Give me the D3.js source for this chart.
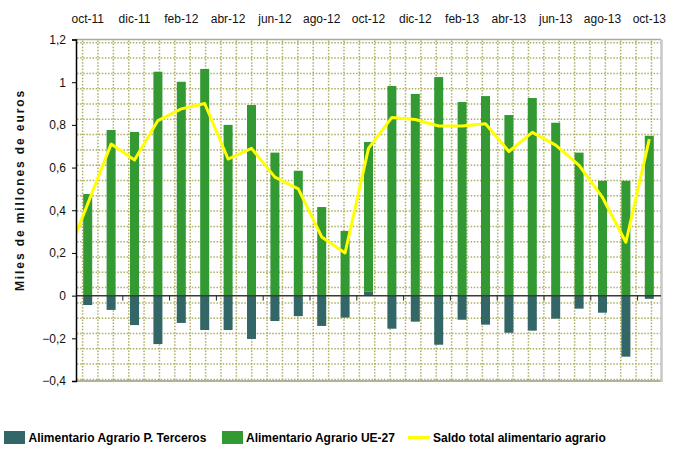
<!DOCTYPE html>
<html>
<head>
<meta charset="utf-8">
<script src="https://cdn.jsdelivr.net/npm/d3@7"></script>
<style>
  body { margin: 0; background: #fff; }
  svg { display: block; font-family: "Liberation Sans", Arial, sans-serif; }
</style>
</head>
<body>
<div id="wrapper"></div>
<script>
// months shown as bars
var months = ["oct-11", "nov-11", "dic-11", "ene-12", "feb-12", "mar-12", "abr-12", "may-12",
  "jun-12", "jul-12", "ago-12", "sep-12", "oct-12", "nov-12", "dic-12", "ene-13", "feb-13",
  "mar-13", "abr-13", "may-13", "jun-13", "jul-13", "ago-13", "sep-13", "oct-13"]
var topLabels = ["oct-11", "dic-11", "feb-12", "abr-12", "jun-12", "ago-12", "oct-12",
  "dic-12", "feb-13", "abr-13", "jun-13", "ago-13", "oct-13"]

// Alimentario Agrario P. Terceros
var terceros = [-0.044, -0.067, -0.138, -0.227, -0.128, -0.161, -0.161, -0.203, -0.119, -0.096,
  -0.142, -0.103, 0.02, -0.155, -0.122, -0.23, -0.113, -0.136, -0.174, -0.164, -0.108, -0.061,
  -0.08, -0.286, -0.015]
// Alimentario Agrario UE-27
var ue27 = [0.476, 0.776, 0.767, 1.049, 1.002, 1.062, 0.80, 0.893, 0.67, 0.585, 0.415, 0.303,
  0.70, 0.982, 0.945, 1.024, 0.907, 0.935, 0.846, 0.926, 0.81, 0.67, 0.538, 0.538, 0.749]

// saldo line starts one month earlier (sep-11), cut by the plot edge
var lineMonths = ["sep-11"].concat(months)
var saldo = [0.15, 0.43, 0.71, 0.635, 0.82, 0.875, 0.90, 0.64, 0.69, 0.555, 0.50, 0.275, 0.20,
  0.69, 0.835, 0.825, 0.795, 0.795, 0.805, 0.675, 0.765, 0.705, 0.61, 0.46, 0.25, 0.733]

var yTicks = [-0.4, -0.2, 0, 0.2, 0.4, 0.6, 0.8, 1, 1.2]

var width = 680
var height = 452
var plotLeft = 76, plotRight = 661, plotTop = 39.5, plotBottom = 381

var colTerceros = "#336666"
var colUE = "#339933"
var colSaldo = "#ffff00"

var svg = d3.select("#wrapper").append("svg")
    .attr("width", width)
    .attr("height", height)

var x = d3.scaleBand()
    .domain(months)
    .range([plotLeft, plotRight])
    .paddingInner(0.615)
    .paddingOuter(0.3075)

var step = x.step()
var xLine = d3.scalePoint()
    .domain(lineMonths)
    .range([plotLeft + step / 2 - step, plotRight - step / 2])

var y = d3.scaleLinear()
    .domain([-0.4, 1.2])
    .range([plotBottom, plotTop])

svg.append("clipPath").attr("id", "plotclip")
    .append("rect")
    .attr("x", plotLeft).attr("y", plotTop)
    .attr("width", plotRight - plotLeft).attr("height", plotBottom - plotTop)

// dotted background grid (pattern of the plot area)
var grid = svg.append("g")
    .attr("stroke", "#9c9c3c")
    .attr("stroke-width", 1.5)
    .attr("stroke-dasharray", "1.5,1.6")
    .attr("opacity", 0.8)

grid.selectAll(".gv")
    .data(d3.range(82.6, plotRight, 15.375))
    .join("line")
    .attr("x1", d => d).attr("x2", d => d)
    .attr("y1", plotTop + 1).attr("y2", plotBottom)

grid.selectAll(".gh")
    .data(d3.range(42.8, plotBottom, 15.3))
    .join("line")
    .attr("x1", plotLeft + 1).attr("x2", plotRight)
    .attr("y1", d => d).attr("y2", d => d)

// plot frame
svg.append("line")
    .attr("x1", plotLeft).attr("x2", plotRight)
    .attr("y1", plotTop).attr("y2", plotTop)
    .attr("stroke", "#a8a8a8").attr("stroke-width", 1.5)
svg.append("line")
    .attr("x1", plotLeft).attr("x2", plotRight + 1)
    .attr("y1", plotBottom).attr("y2", plotBottom)
    .attr("stroke", "#9a9a7a").attr("stroke-width", 1.5)
svg.append("line")
    .attr("x1", plotRight + 0.5).attr("x2", plotRight + 0.5)
    .attr("y1", plotTop).attr("y2", plotBottom + 1)
    .attr("stroke", "#c8c8c8").attr("stroke-width", 2.5)

// stacked bars
var rows = months.map((m, i) => ({ month: m, terceros: terceros[i], ue27: ue27[i] }))
var series = d3.stack()
    .keys(["terceros", "ue27"])
    .offset(d3.stackOffsetDiverging)(rows)

var colors = { terceros: colTerceros, ue27: colUE }

svg.append("g")
    .selectAll("g")
    .data(series)
    .join("g")
    .attr("fill", d => colors[d.key])
    .selectAll("rect")
    .data(d => d)
    .join("rect")
    .attr("x", d => x(d.data.month))
    .attr("width", x.bandwidth())
    .attr("y", d => y(Math.max(d[0], d[1])))
    .attr("height", d => Math.abs(y(d[0]) - y(d[1])))

// zero line with ticks every two months
svg.append("line")
    .attr("x1", plotLeft).attr("x2", plotRight)
    .attr("y1", y(0)).attr("y2", y(0))
    .attr("stroke", "#3a3a3a").attr("stroke-width", 1.5)

svg.append("g")
    .selectAll("line")
    .data(months.filter((m, i) => i % 2 == 0 && i > 0))
    .join("line")
    .attr("x1", d => x(d) - (step - x.bandwidth()) / 2)
    .attr("x2", d => x(d) - (step - x.bandwidth()) / 2)
    .attr("y1", y(0)).attr("y2", y(0) + 5)
    .attr("stroke", "#222").attr("stroke-width", 1)

// saldo line
var line = d3.line()
    .x((d, i) => xLine(lineMonths[i]))
    .y(d => y(d))

svg.append("path")
    .datum(saldo)
    .attr("clip-path", "url(#plotclip)")
    .attr("fill", "none")
    .attr("stroke", colSaldo)
    .attr("stroke-width", 3)
    .attr("stroke-linejoin", "round")
    .attr("d", line)

// y axis
var yAxis = svg.append("g")
    .attr("transform", `translate(${plotLeft},0)`)
    .call(d3.axisLeft(y).tickValues(yTicks).tickSize(4).tickPadding(6)
        .tickFormat(d => d3.format(".1~f")(d).replace(".", ",")))
yAxis.select(".domain").attr("stroke", "#000").attr("stroke-width", 1.5)
yAxis.selectAll("text").attr("font-size", 12).attr("fill", "#111")
    .attr("font-family", "Liberation Sans, Arial, sans-serif")

// month labels on top
var xAxis = svg.append("g")
    .attr("transform", "translate(0,25.5)")
    .call(d3.axisTop(x).tickValues(topLabels).tickSize(0).tickPadding(3))
xAxis.select(".domain").remove()
xAxis.selectAll("text").attr("font-size", 12).attr("fill", "#111")
    .attr("font-family", "Liberation Sans, Arial, sans-serif")

// y title
svg.append("text")
    .attr("transform", "translate(24,190) rotate(-90)")
    .attr("text-anchor", "middle")
    .attr("font-size", 12)
    .attr("font-weight", "bold")
    .attr("letter-spacing", 1.9)
    .attr("fill", "#111")
    .text("Miles de millones de euros")

// legend
var legend = svg.append("g").attr("font-size", 12).attr("font-weight", "bold")

legend.append("rect").attr("x", 4).attr("y", 431).attr("width", 21).attr("height", 13).attr("fill", colTerceros)
legend.append("text").attr("x", 28.5).attr("y", 442).text("Alimentario Agrario P. Terceros")

legend.append("rect").attr("x", 222).attr("y", 431).attr("width", 21).attr("height", 13).attr("fill", colUE)
legend.append("text").attr("x", 246).attr("y", 442).text("Alimentario Agrario UE-27")

legend.append("line").attr("x1", 408).attr("x2", 430).attr("y1", 437.5).attr("y2", 437.5)
    .attr("stroke", colSaldo).attr("stroke-width", 3)
legend.append("text").attr("x", 433).attr("y", 442).text("Saldo total alimentario agrario")
</script>
</body>
</html>
